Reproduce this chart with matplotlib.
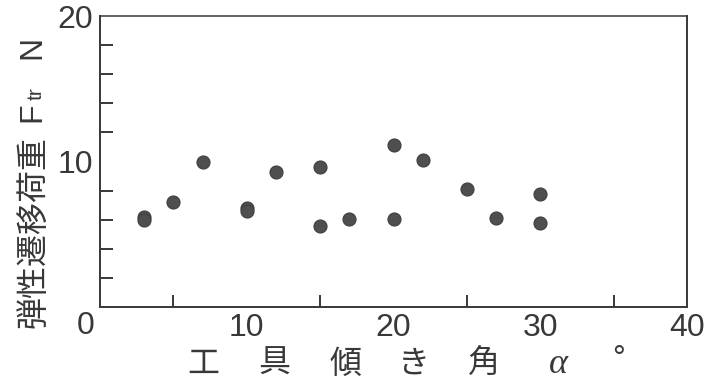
import matplotlib
matplotlib.use("Agg")
import matplotlib.pyplot as plt

# Measured elastic transition load versus tool tilt angle
tilt_angle = [3, 3, 5, 7, 10, 10, 12, 15, 15, 17, 20, 20, 22, 25, 27, 30, 30]
transition_load = [6.2, 6.0, 7.2, 10.0, 6.8, 6.6, 9.3, 9.6, 5.6, 6.05, 11.1, 6.05, 10.1, 8.1, 6.1, 7.8, 5.8]

x_major = [10, 20, 30, 40]
x_minor = [5, 10, 15, 20, 25, 30, 35]
y_major = [10, 20]
y_minor = [2, 4, 6, 8, 10, 12, 14, 16, 18]

ylabel_main = "弾性遷移荷重"
ylabel_sym = "F"
ylabel_sub = "tr"
ylabel_unit = "N"
xlabel_chars = ["工", "具", "傾", "き", "角"]
xlabel_sym = "α"
xlabel_unit = "°"

INK = "#383838"
DOT = "#4f4f4f"
W, H = 717, 382

fig = plt.figure(figsize=(W / 100, H / 100), dpi=100)
fig.patch.set_facecolor("white")


def fx(x):
    return x / W


def fy(y):
    return 1 - y / H


ax = fig.add_axes([fx(100), fy(307), (687 - 100) / W, (307 - 16) / H])
ax.set_xlim(0, 40)
ax.set_ylim(0, 20)

ax.scatter(tilt_angle, transition_load, s=88, color=DOT, edgecolors="#3f3f3f",
           linewidths=0.8, zorder=3)

for side in ["left", "bottom", "right", "top"]:
    ax.spines[side].set_color(INK)
    ax.spines[side].set_linewidth(1.4)
ax.spines["top"].set_linewidth(1.1)

ax.set_xticks(x_minor, minor=True)
ax.set_yticks(y_minor, minor=True)
ax.set_xticks(x_major)
ax.set_yticks(y_major)
ax.tick_params(which="both", direction="in", length=9, width=1.4, color=INK,
               top=False, right=False)
ax.tick_params(axis="x", which="major", length=0)
ax.tick_params(axis="y", which="major", length=0)
ax.set_xticklabels([str(v) for v in x_major], fontsize=23, color=INK,
                   family="Liberation Sans")
ax.set_yticklabels([str(v) for v in y_major], fontsize=23, color=INK,
                   family="Liberation Sans")
ax.tick_params(axis="x", pad=4)
ax.tick_params(axis="y", pad=5)

# shared origin label
fig.text(fx(86), fy(326), "0", fontsize=23, color=INK, family="Liberation Sans",
         ha="center", va="center")

# x axis title, spaced out glyph by glyph
x_centers = [203, 274, 346, 414, 484]
for cx, ch in zip(x_centers, xlabel_chars):
    fig.text(fx(cx), fy(373), ch, fontsize=23, color=INK,
             family=["Noto Sans CJK JP", "DejaVu Sans"], ha="center", va="baseline")
fig.text(fx(558), fy(373), xlabel_sym, fontsize=26, color=INK,
         family="Liberation Serif", style="italic", ha="center", va="baseline")
fig.text(fx(618), fy(367), xlabel_unit, fontsize=23, color=INK,
         family="Liberation Sans", ha="center", va="baseline")

# y axis title, rotated pieces
rot = dict(rotation=90, rotation_mode="anchor", ha="center", va="baseline", color=INK)
fig.text(fx(43), fy(232), ylabel_main, fontsize=23,
         family=["Noto Sans CJK JP", "DejaVu Sans"], **rot)
fig.text(fx(40), fy(112), ylabel_sym, fontsize=23, family="Liberation Sans", **rot)
fig.text(fx(42), fy(94), ylabel_sub, fontsize=15, family="Liberation Sans", **rot)
fig.text(fx(40), fy(47), ylabel_unit, fontsize=23, family="Liberation Sans", **rot)

fig.savefig("out.png", dpi=100)
